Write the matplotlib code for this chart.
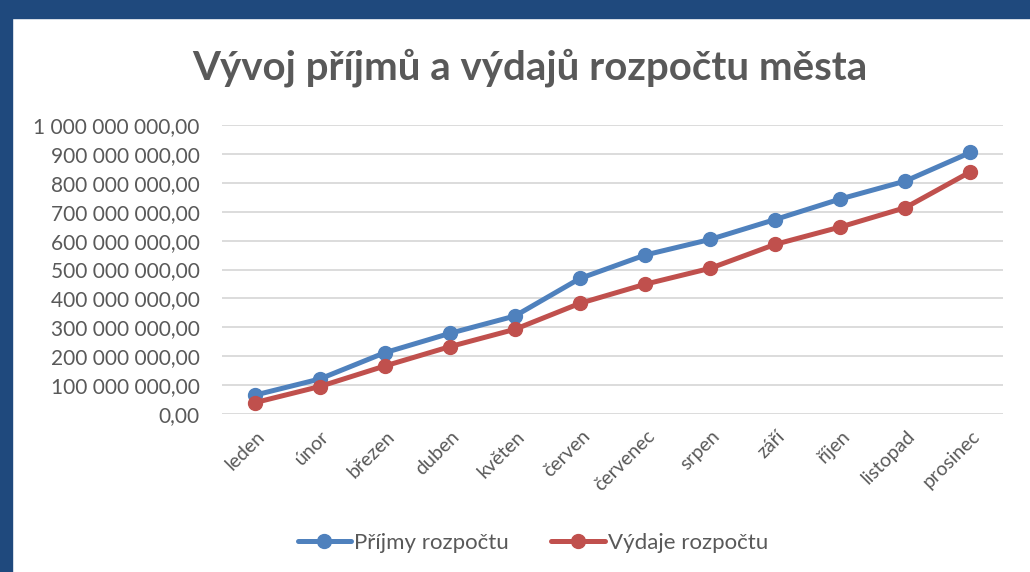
import matplotlib.pyplot as plt
from matplotlib.patches import Rectangle
from matplotlib.ticker import FuncFormatter, MultipleLocator
from matplotlib.transforms import ScaledTranslation

plt.rcParams['font.family'] = ['Lato', 'DejaVu Sans']

# data
mesice = ['leden', 'únor', 'březen', 'duben', 'květen', 'červen',
          'červenec', 'srpen', 'září', 'říjen', 'listopad', 'prosinec']
prijmy = [65e6, 121e6, 212e6, 279e6, 339e6, 469e6,
          550e6, 604e6, 673e6, 744e6, 806e6, 905e6]
vydaje = [39e6, 95e6, 166e6, 233e6, 293e6, 383e6,
          449e6, 504e6, 587e6, 647e6, 714e6, 838e6]

text_color = '#595959'
blue = '#4F81BD'
red = '#C0504D'


def czech_fmt(v, pos):
    s = f'{v:,.2f}'
    return s.replace(',', ' ').replace('.', ',')


fig = plt.figure(figsize=(10.3, 5.72), dpi=100)
ax = fig.add_axes([222 / 1030, 1 - 414 / 572, (1003 - 222) / 1030, (414 - 125) / 572])

x = range(len(mesice))
ax.plot(x, prijmy, color=blue, lw=3.6, marker='o', ms=10, label='Příjmy rozpočtu',
        solid_capstyle='round', zorder=3)
ax.plot(x, vydaje, color=red, lw=3.6, marker='o', ms=10, label='Výdaje rozpočtu',
        solid_capstyle='round', zorder=3)

ax.set_xlim(-0.5, len(mesice) - 0.5)
ax.set_ylim(0, 1e9)
ax.yaxis.set_major_locator(MultipleLocator(1e8))
ax.yaxis.set_major_formatter(FuncFormatter(czech_fmt))
ax.grid(axis='y', color='#D9D9D9', lw=1.3)
ax.set_axisbelow(True)
for s in ax.spines.values():
    s.set_visible(False)
ax.tick_params(axis='y', length=0, colors=text_color, labelsize=15, pad=16)
ax.set_xticks(list(x))
ax.set_xticklabels(mesice, rotation=45, ha='right', va='center', rotation_mode='anchor')
ax.tick_params(axis='x', length=0, colors=text_color, labelsize=14, pad=14)
shift = ScaledTranslation(7 / 100, 0, fig.dpi_scale_trans)
for lab in ax.get_xticklabels():
    lab.set_transform(lab.get_transform() + shift)

fig.suptitle('Vývoj příjmů a výdajů rozpočtu města', x=530 / 1030, y=1 - 68 / 572,
             va='center', fontsize=29, fontweight='bold', color=text_color)

leg = fig.legend(loc='center', bbox_to_anchor=(533 / 1030, 1 - 543 / 572), ncol=2,
                 frameon=False, fontsize=16, handlelength=2.4, columnspacing=1.9,
                 handletextpad=0.15)
for t in leg.get_texts():
    t.set_color(text_color)

# dark blue frame of the slide
fig.patches.append(Rectangle((0, 1 - 18 / 572), 1, 18 / 572, transform=fig.transFigure,
                             color='#1F497D', zorder=10))
fig.patches.append(Rectangle((0, 0), 12 / 1030, 1, transform=fig.transFigure,
                             color='#1F497D', zorder=10))

fig.savefig('out.png', dpi=100)
